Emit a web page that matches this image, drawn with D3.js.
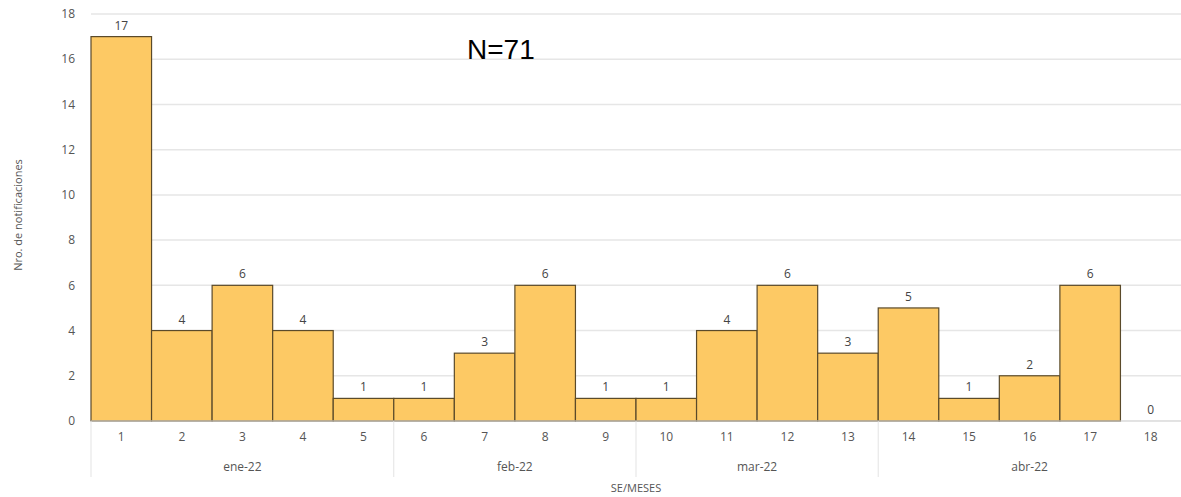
<!DOCTYPE html>
<html><head><meta charset="utf-8">
<script src="https://cdn.jsdelivr.net/npm/d3@7"></script>
<style>body{margin:0;background:#fff;} svg{display:block;}</style>
</head><body>
<svg id="c" width="1181" height="497"></svg>
<script>
const weeks = ["1","2","3","4","5","6","7","8","9","10","11","12","13","14","15","16","17","18"];
const values = [17,4,6,4,1,1,3,6,1,1,4,6,3,5,1,2,6,0];
const months = ["ene-22","feb-22","mar-22","abr-22"];
const monthWeeks = [["1","2","3","4","5"],["6","7","8","9"],["10","11","12","13"],["14","15","16","17","18"]];
const yTicks = [0,2,4,6,8,10,12,14,16,18];

(function(){
const svg = d3.select("#c");
const mLeft = 91, mRight = 1181, mTop = 14, mBottom = 421;
const x = d3.scaleBand().domain(weeks).range([mLeft, mRight]).padding(0);
const y = d3.scaleLinear().domain([0,18]).range([mBottom, mTop]);
const font = "'Open Sans', 'DejaVu Sans', sans-serif";

svg.append("g").selectAll("line").data(yTicks).join("line")
  .attr("x1", mLeft).attr("x2", mRight)
  .attr("y1", d => y(d)).attr("y2", d => y(d))
  .attr("stroke", "#e6e6e6").attr("stroke-width", 1.5);

svg.append("g").selectAll("text").data(yTicks).join("text")
  .attr("x", 75).attr("y", d => y(d)).attr("dy", "0.35em")
  .attr("text-anchor", "end").attr("font-family", font).attr("font-size", 12)
  .attr("fill", "#555").text(d => d);

svg.append("g").selectAll("rect").data(values).join("rect")
  .attr("x", (d,i) => x(weeks[i])).attr("width", x.bandwidth())
  .attr("y", d => y(d)).attr("height", d => mBottom - y(d))
  .attr("fill", "#fdc964").attr("stroke", d => d > 0 ? "#5a4a2a" : "none").attr("stroke-width", 1.2);

svg.append("g").selectAll("text").data(values).join("text")
  .attr("x", (d,i) => x(weeks[i]) + x.bandwidth()/2).attr("y", d => y(d) - 7)
  .attr("text-anchor", "middle").attr("font-family", font).attr("font-size", 12)
  .attr("fill", "#444").text(d => d);

svg.append("line").attr("x1", mLeft).attr("x2", mRight).attr("y1", mBottom).attr("y2", mBottom)
  .attr("stroke", "#d9d9d9").attr("stroke-width", 1);

svg.append("g").selectAll("text").data(weeks).join("text")
  .attr("x", d => x(d) + x.bandwidth()/2).attr("y", 441)
  .attr("text-anchor", "middle").attr("font-family", font).attr("font-size", 12)
  .attr("fill", "#555").text(d => d);

const monthSpans = monthWeeks.map(ws => [x(ws[0]), x(ws[ws.length-1]) + x.bandwidth()]);
svg.append("g").selectAll("line").data(monthSpans).join("line")
  .attr("x1", d => d[0]).attr("x2", d => d[0]).attr("y1", mBottom).attr("y2", 477)
  .attr("stroke", "#e3e3e3").attr("stroke-width", 1);
svg.append("g").selectAll("text").data(months).join("text")
  .attr("x", (d,i) => (monthSpans[i][0] + monthSpans[i][1]) / 2).attr("y", 471)
  .attr("text-anchor", "middle").attr("font-family", font).attr("font-size", 12)
  .attr("fill", "#555").text(d => d);

svg.append("text").attr("x", (mLeft+mRight)/2).attr("y", 492)
  .attr("text-anchor", "middle").attr("font-family", font).attr("font-size", 11)
  .attr("fill", "#555").text("SE/MESES");
svg.append("text").attr("transform", "translate(22,215) rotate(-90)")
  .attr("text-anchor", "middle").attr("font-family", font).attr("font-size", 11)
  .attr("fill", "#555").text("Nro. de notificaciones");

svg.append("text").attr("x", 467).attr("y", 59)
  .attr("font-family", "'Liberation Sans', Arial, sans-serif").attr("font-size", 28)
  .attr("fill", "#000").text("N=71");
})();
</script>
</body></html>
